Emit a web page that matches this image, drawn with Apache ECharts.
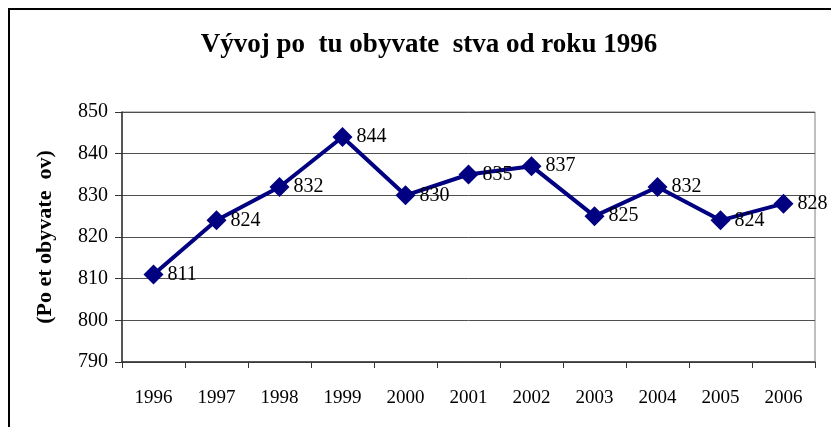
<!DOCTYPE html>
<html>
<head>
<meta charset="utf-8">
<script src="https://cdn.jsdelivr.net/npm/echarts@6/dist/echarts.min.js"></script>
<style>
html, body { margin: 0; padding: 0; background: #fff; }
#chart { width: 831px; height: 427px; }
</style>
</head>
<body>
<div id="chart"></div>
<script>
// data
var years = ['1996','1997','1998','1999','2000','2001','2002','2003','2004','2005','2006'];
var population = [811, 824, 832, 844, 830, 835, 837, 825, 832, 824, 828];
var yMin = 790, yMax = 850, yStep = 10;

var serif = '"Liberation Serif", "Times New Roman", serif';

var chart = echarts.init(document.getElementById('chart'));
var option = {
    animation: false,
    backgroundColor: '#fff',
    title: {
        text: 'Vývoj po  tu obyvate  stva od roku 1996',
        left: 424,
        top: 27,
        textAlign: 'center',
        textStyle: { fontFamily: serif, fontSize: 27, fontWeight: 'bold', color: '#000' }
    },
    // outer frame (only top and left visible in the picture)
    graphic: [{
        type: 'rect',
        shape: { x: 9, y: 9, width: 900, height: 600 },
        style: { fill: 'none', stroke: '#000', lineWidth: 2 },
        silent: true
    }],
    grid: {
        left: 122, right: 16, top: 112, bottom: 65,
        show: true, borderColor: '#808080', borderWidth: 1
    },
    xAxis: {
        type: 'category',
        data: years,
        boundaryGap: true,
        axisLine: { lineStyle: { color: '#333', width: 1.5 } },
        axisTick: { show: true, length: 6, lineStyle: { color: '#333' } },
        axisLabel: { fontFamily: serif, fontSize: 19, color: '#000', margin: 27 },
        splitLine: { show: false }
    },
    yAxis: {
        type: 'value',
        min: yMin, max: yMax, interval: yStep,
        name: '(Po et obyvate  ov)',
        nameLocation: 'middle',
        nameGap: 66,
        nameTextStyle: { fontFamily: serif, fontSize: 22, fontWeight: 'bold', color: '#000' },
        axisLine: { show: true, lineStyle: { color: '#333', width: 1.5 } },
        axisTick: { show: true, length: 7, lineStyle: { color: '#333' } },
        axisLabel: { fontFamily: serif, fontSize: 20, color: '#000', margin: 14 },
        splitLine: { show: true, lineStyle: { color: '#505050', width: 1 } }
    },
    series: [{
        type: 'line',
        data: population,
        symbol: 'diamond',
        symbolSize: 20,
        lineStyle: { color: '#000080', width: 4 },
        itemStyle: { color: '#000080' },
        label: {
            show: true,
            position: 'right',
            distance: 4,
            fontFamily: serif,
            fontSize: 20,
            color: '#000'
        }
    }]
};
chart.setOption(option);
</script>
</body>
</html>
